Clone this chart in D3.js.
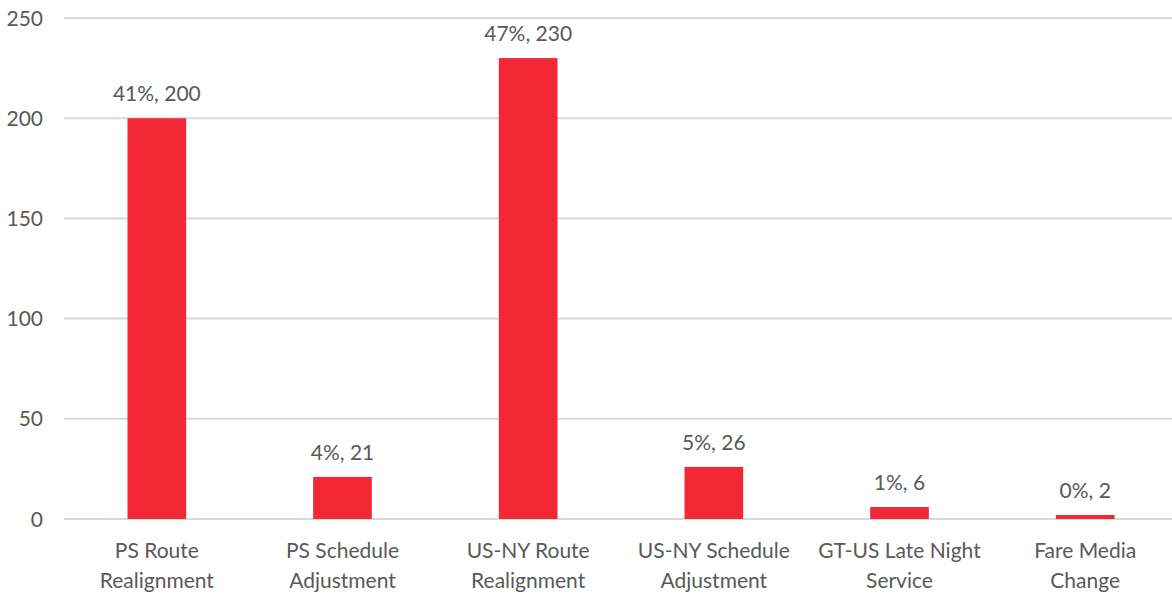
<!DOCTYPE html>
<html>
<head>
<meta charset="utf-8">
<script src="https://cdn.jsdelivr.net/npm/d3@7"></script>
<style>
  html, body { margin: 0; padding: 0; background: #ffffff; }
  svg { display: block; font-family: Lato, "Open Sans", sans-serif; }
</style>
</head>
<body>
<svg id="chart" width="1172" height="597"></svg>
<script>
// Survey responses by proposed service change
const categories = [
  ["PS Route", "Realignment"],
  ["PS Schedule", "Adjustment"],
  ["US-NY Route", "Realignment"],
  ["US-NY Schedule", "Adjustment"],
  ["GT-US Late Night", "Service"],
  ["Fare Media", "Change"]
];
const counts = [200, 21, 230, 26, 6, 2];
const shares = ["41%", "4%", "47%", "5%", "1%", "0%"];
const yTicks = [0, 50, 100, 150, 200, 250];

const svg = d3.select("#chart");
const plotLeft = 64, plotRight = 1178, plotTop = 18, plotBottom = 519;
const textColor = "#595959";

const x = d3.scaleBand()
  .domain(d3.range(categories.length))
  .range([plotLeft, plotRight])
  .paddingInner(0.684)
  .paddingOuter(0.342);

const y = d3.scaleLinear().domain([0, 250]).range([plotBottom, plotTop]);

// Horizontal gridlines
svg.append("g")
  .selectAll("line")
  .data(yTicks)
  .join("line")
  .attr("x1", plotLeft)
  .attr("x2", 1172)
  .attr("y1", d => y(d))
  .attr("y2", d => y(d))
  .attr("stroke", "#d9d9d9")
  .attr("stroke-width", 2);

// Y axis labels
svg.append("g")
  .selectAll("text")
  .data(yTicks)
  .join("text")
  .attr("x", 43)
  .attr("y", d => y(d))
  .attr("dy", "0.36em")
  .attr("text-anchor", "end")
  .attr("fill", textColor)
  .attr("font-size", 21)
  .text(d => d);

// Bars
svg.append("g")
  .selectAll("rect")
  .data(counts)
  .join("rect")
  .attr("x", (d, i) => x(i))
  .attr("width", x.bandwidth())
  .attr("y", d => y(d))
  .attr("height", d => y(0) - y(d))
  .attr("fill", "#f22837");

// Value labels above the bars
svg.append("g")
  .selectAll("text")
  .data(counts)
  .join("text")
  .attr("x", (d, i) => x(i) + x.bandwidth() / 2)
  .attr("y", d => y(d) - 17)
  .attr("text-anchor", "middle")
  .attr("fill", textColor)
  .attr("font-size", 21)
  .text((d, i) => `${shares[i]}, ${d}`);

// Two-line category labels
const cat = svg.append("g")
  .selectAll("text")
  .data(categories)
  .join("text")
  .attr("text-anchor", "middle")
  .attr("fill", textColor)
  .attr("font-size", 21);

cat.selectAll("tspan")
  .data((d, i) => d.map(line => ({ line, i })))
  .join("tspan")
  .attr("x", d => x(d.i) + x.bandwidth() / 2)
  .attr("y", (d, j) => 558 + j * 30)
  .text(d => d.line);
</script>
</body>
</html>
